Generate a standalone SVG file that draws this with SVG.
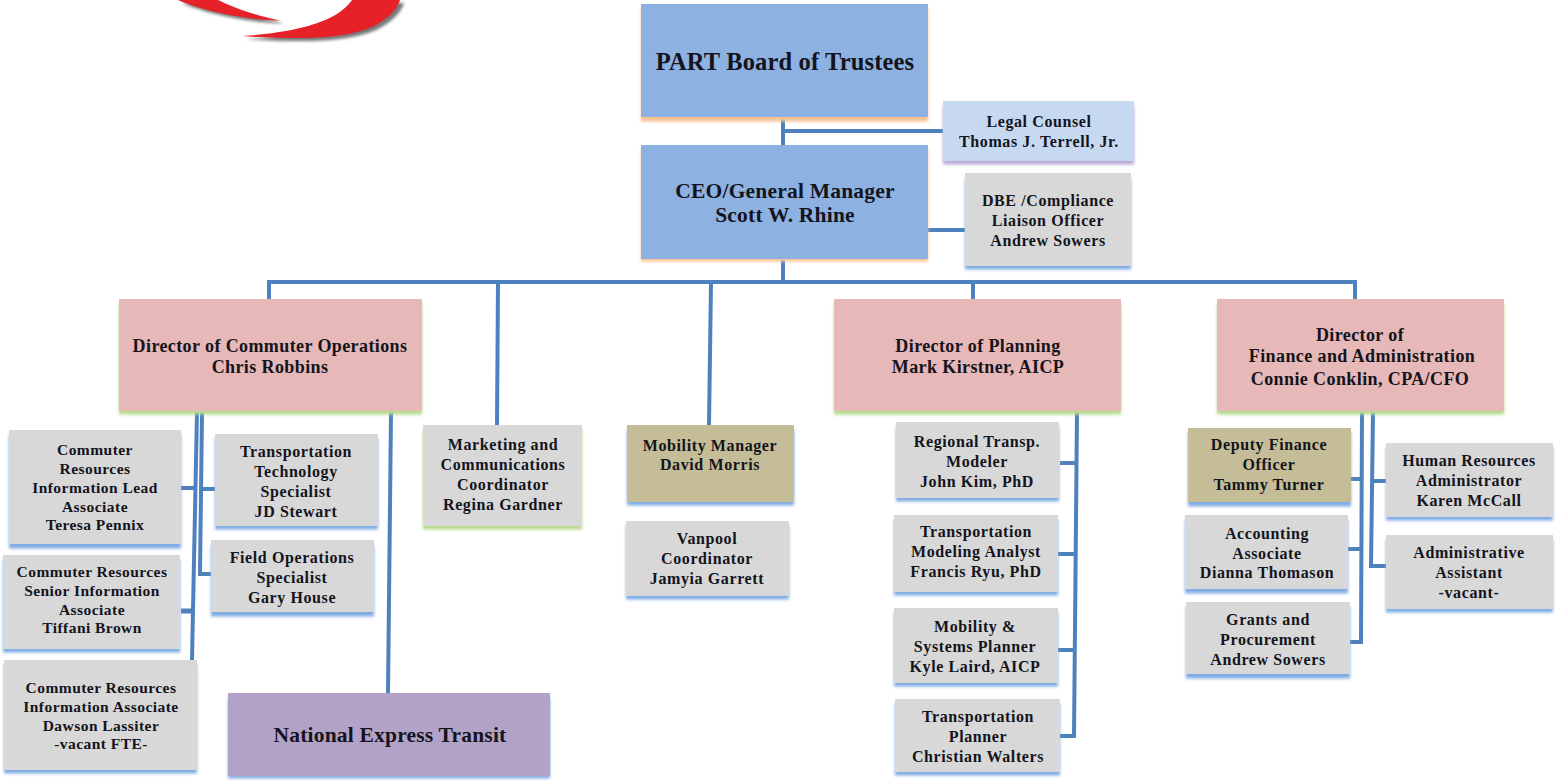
<svg xmlns="http://www.w3.org/2000/svg" width="1559" height="782" viewBox="0 0 1559 782">
<style>
text{font-family:"Liberation Serif","Times New Roman",serif;font-weight:bold;fill:#14141c;text-anchor:middle}
.s{font-size:16px;letter-spacing:.6px;transform:translateY(-.3px)}
.t{font-size:15.5px;letter-spacing:.45px;transform:translateY(-.8px)}
.m{font-size:18px;letter-spacing:.4px}
.l{font-size:21.5px;letter-spacing:.2px}
.x{font-size:24.5px;letter-spacing:.15px}
.c{fill:none;stroke:#4f81bd;stroke-width:4}
.gray{fill:#d8d8d8}.blue{fill:#8db1e1}.pale{fill:#c6d9f1}.pink{fill:#e6b8b7}.tan{fill:#c4bd97}.pur{fill:#b2a2c7}
.sb,.so,.sg,.sl{transform:translateY(1.5px)}
.sb{fill:#7fabe3}.so{fill:#fac090}.sg{fill:#b5d98a}.sl{fill:#b9a9d9}
</style>
<defs>
<filter id="b" x="-10%" y="-10%" width="120%" height="120%"><feGaussianBlur stdDeviation="1.4"/></filter>
<filter id="b2" x="-10%" y="-30%" width="120%" height="160%"><feGaussianBlur stdDeviation="1.5"/></filter>
<path id="sw1" d="M178 0C200 10 245 20 280 20.500C250 14 232 7 218 0Z"/>
<path id="sw2" d="M352 0C343 13 320 31 242 36C300 40 345 39 372 27C388 19 397 10 400 0Z"/>
</defs>
<g id="logo">
<g fill="#777" filter="url(#b2)" transform="translate(4,3)"><use href="#sw1"/><use href="#sw2"/></g>
<g fill="#e62228"><use href="#sw1"/><use href="#sw2"/></g>
</g>
<g id="connectors" class="c">
<path d="M783 118V146M783 131H943"/>
<path d="M928 230H966"/>
<path d="M783 260V282"/>
<path d="M269 299V282H1355V299"/>
<path d="M498 282L497 425"/>
<path d="M711 282L709 425"/>
<path d="M973 282V299"/>
<path d="M197 412L192 660"/>
<path d="M181 488H197"/>
<path d="M181 611H193" style="stroke-width:5"/>
<path d="M202 412L200 574H211"/>
<path d="M201 489H215"/>
<path d="M391 412L388 693"/>
<path d="M1077 412L1074 736H1060"/>
<path d="M1060 463H1077M1058 554H1076M1058 650H1075"/>
<path d="M1362 412L1361 642H1350"/>
<path d="M1351 479H1362M1348 549H1361"/>
<path d="M1373 412L1371 566H1386"/>
<path d="M1372 481H1386"/>
</g>
<g id="board"><rect class="so" x="641" y="7" width="287" height="113" filter="url(#b)"/><rect class="blue" x="641" y="4" width="287" height="113"/><text class="x" x="785" y="70">PART Board of Trustees</text></g>
<g id="legal"><rect class="sl" x="943" y="104" width="191" height="59" filter="url(#b)"/><rect class="pale" x="943" y="101" width="191" height="60"/><text class="s" x="1039" y="127">Legal Counsel</text><text class="s" x="1039" y="147">Thomas J. Terrell, Jr.</text></g>
<g id="ceo"><rect class="so" x="641" y="148" width="287" height="112" filter="url(#b)"/><rect class="blue" x="641" y="145" width="287" height="114"/><text class="l" x="785" y="198">CEO/General Manager</text><text class="l" x="785" y="222">Scott W. Rhine</text></g>
<g id="dbe"><rect class="sb" x="965" y="177" width="166" height="91" filter="url(#b)"/><rect class="gray" x="965" y="173" width="166" height="93"/><text class="s" x="1048" y="206">DBE /Compliance</text><text class="s" x="1048" y="226">Liaison Officer</text><text class="s" x="1048" y="246">Andrew Sowers</text></g>
<g id="dir-commuter"><rect class="sg" x="119" y="302" width="303" height="111" filter="url(#b)"/><rect class="pink" x="119" y="299" width="303" height="112"/><text class="m" x="270" y="352">Director of Commuter Operations</text><text class="m" x="270" y="373">Chris Robbins</text></g>
<g id="dir-planning"><rect class="sg" x="834" y="302" width="287" height="111" filter="url(#b)"/><rect class="pink" x="834" y="299" width="287" height="112"/><text class="m" x="978" y="352">Director of Planning</text><text class="m" x="978" y="373">Mark Kirstner, AICP</text></g>
<g id="dir-finance"><rect class="sg" x="1217" y="302" width="287" height="111" filter="url(#b)"/><rect class="pink" x="1217" y="299" width="287" height="112"/><text class="m" x="1360" y="341">Director of</text><text class="m" x="1362" y="362">Finance and Administration</text><text class="m" x="1360" y="385">Connie Conklin, CPA/CFO</text></g>
<g id="lead"><rect class="sb" x="9" y="433" width="172" height="114" filter="url(#b)"/><rect class="gray" x="9" y="430" width="172" height="114"/><text class="t" x="95" y="456">Commuter</text><text class="t" x="95" y="475">Resources</text><text class="t" x="95" y="494">Information Lead</text><text class="t" x="95" y="513">Associate</text><text class="t" x="95" y="531">Teresa Pennix</text></g>
<g id="tech"><rect class="sb" x="215" y="437" width="163" height="91" filter="url(#b)"/><rect class="gray" x="215" y="434" width="163" height="92"/><text class="s" x="296" y="457">Transportation</text><text class="s" x="296" y="477">Technology</text><text class="s" x="296" y="497">Specialist</text><text class="s" x="296" y="517">JD Stewart</text></g>
<g id="field"><rect class="sb" x="211" y="544" width="163" height="71" filter="url(#b)"/><rect class="gray" x="211" y="540" width="163" height="72"/><text class="s" x="292" y="563">Field Operations</text><text class="s" x="292" y="583">Specialist</text><text class="s" x="292" y="603">Gary House</text></g>
<g id="senior"><rect class="sb" x="3" y="558" width="177" height="93" filter="url(#b)"/><rect class="gray" x="3" y="555" width="177" height="94"/><text class="t" x="92" y="578">Commuter Resources</text><text class="t" x="92" y="597">Senior Information</text><text class="t" x="92" y="616">Associate</text><text class="t" x="92" y="634">Tiffani Brown</text></g>
<g id="info"><rect class="sb" x="4" y="663" width="193" height="109" filter="url(#b)"/><rect class="gray" x="4" y="660" width="193" height="110"/><text class="t" x="101" y="694">Commuter Resources</text><text class="t" x="101" y="713">Information Associate</text><text class="t" x="101" y="732">Dawson Lassiter</text><text class="t" x="101" y="750">-vacant FTE-</text></g>
<g id="national"><rect class="sb" x="228" y="696" width="322" height="81" filter="url(#b)"/><rect class="pur" x="228" y="693" width="322" height="83"/><text class="l" x="390" y="742">National Express Transit</text></g>
<g id="marketing"><rect class="sg" x="423" y="428" width="159" height="100" filter="url(#b)"/><rect class="gray" x="423" y="425" width="159" height="101"/><text class="s" x="503" y="450">Marketing and</text><text class="s" x="503" y="470">Communications</text><text class="s" x="503" y="490">Coordinator</text><text class="s" x="503" y="510">Regina Gardner</text></g>
<g id="mobility"><rect class="sb" x="627" y="428" width="167" height="76" filter="url(#b)"/><rect class="tan" x="627" y="425" width="167" height="77"/><text class="s" x="710" y="451">Mobility Manager</text><text class="s" x="710" y="470">David Morris</text></g>
<g id="vanpool"><rect class="sb" x="626" y="524" width="163" height="74" filter="url(#b)"/><rect class="gray" x="626" y="521" width="163" height="75"/><text class="s" x="707" y="544">Vanpool</text><text class="s" x="707" y="564">Coordinator</text><text class="s" x="707" y="584">Jamyia Garrett</text></g>
<g id="modeler"><rect class="sb" x="896" y="425" width="163" height="75" filter="url(#b)"/><rect class="gray" x="896" y="422" width="163" height="76"/><text class="s" x="977" y="447">Regional Transp.</text><text class="s" x="977" y="467">Modeler</text><text class="s" x="977" y="487">John Kim, PhD</text></g>
<g id="analyst"><rect class="sb" x="894" y="518" width="164" height="76" filter="url(#b)"/><rect class="gray" x="894" y="515" width="164" height="77"/><text class="s" x="976" y="537">Transportation</text><text class="s" x="976" y="557">Modeling Analyst</text><text class="s" x="976" y="577">Francis Ryu, PhD</text></g>
<g id="systems"><rect class="sb" x="894" y="611" width="164" height="74" filter="url(#b)"/><rect class="gray" x="894" y="608" width="164" height="75"/><text class="s" x="975" y="632">Mobility &amp;</text><text class="s" x="975" y="652">Systems Planner</text><text class="s" x="975" y="672">Kyle Laird, AICP</text></g>
<g id="planner"><rect class="sb" x="895" y="702" width="165" height="72" filter="url(#b)"/><rect class="gray" x="895" y="699" width="165" height="73"/><text class="s" x="978" y="722">Transportation</text><text class="s" x="978" y="742">Planner</text><text class="s" x="978" y="762">Christian Walters</text></g>
<g id="deputy"><rect class="sb" x="1188" y="431" width="163" height="74" filter="url(#b)"/><rect class="tan" x="1188" y="428" width="163" height="74"/><text class="s" x="1269" y="450">Deputy Finance</text><text class="s" x="1269" y="470">Officer</text><text class="s" x="1269" y="490">Tammy Turner</text></g>
<g id="accounting"><rect class="sb" x="1185" y="519" width="163" height="73" filter="url(#b)"/><rect class="gray" x="1185" y="515" width="163" height="74"/><text class="s" x="1267" y="539">Accounting</text><text class="s" x="1267" y="559">Associate</text><text class="s" x="1267" y="578">Dianna Thomason</text></g>
<g id="grants"><rect class="sb" x="1186" y="605" width="164" height="72" filter="url(#b)"/><rect class="gray" x="1186" y="602" width="164" height="72"/><text class="s" x="1268" y="625">Grants and</text><text class="s" x="1268" y="645">Procurement</text><text class="s" x="1268" y="665">Andrew Sowers</text></g>
<g id="hr"><rect class="sb" x="1386" y="446" width="167" height="73" filter="url(#b)"/><rect class="gray" x="1386" y="443" width="167" height="74"/><text class="s" x="1469" y="466">Human Resources</text><text class="s" x="1469" y="486">Administrator</text><text class="s" x="1469" y="506">Karen McCall</text></g>
<g id="admin"><rect class="sb" x="1386" y="538" width="167" height="73" filter="url(#b)"/><rect class="gray" x="1386" y="535" width="167" height="74"/><text class="s" x="1469" y="558">Administrative</text><text class="s" x="1469" y="578">Assistant</text><text class="s" x="1469" y="598">-vacant-</text></g>
</svg>
